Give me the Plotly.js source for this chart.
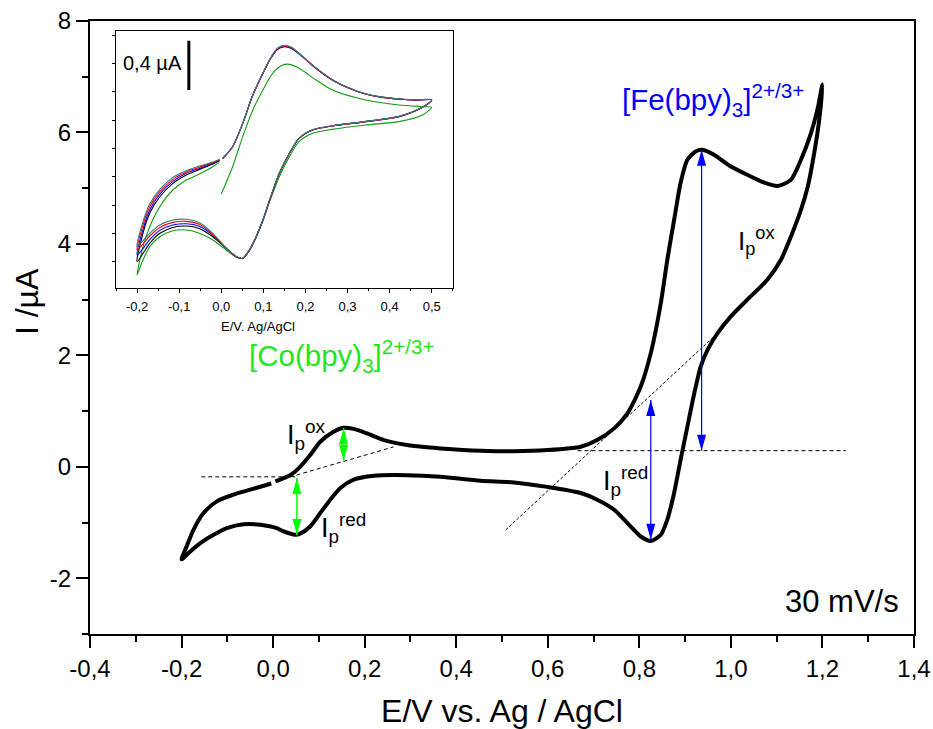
<!DOCTYPE html>
<html>
<head>
<meta charset="utf-8">
<script src="https://cdn.plot.ly/plotly-3.0.1.min.js"></script>
<style>html,body{margin:0;padding:0;background:#fff;}#chart{width:933px;height:729px;}</style>
</head>
<body>
<div id="chart"></div>
<script>
// ---------- main cyclic voltammogram (E / V, I / µA) ----------
const mainE = [0.005, 0.037, 0.059, 0.081, 0.103, 0.132, 0.154, 0.176, 0.205, 0.242, 0.293, 0.336, 0.366, 0.453, 0.526, 0.599, 0.672, 0.708, 0.745, 0.774, 0.803, 0.825, 0.847, 0.861, 0.876, 0.890, 0.905, 0.923, 0.938, 0.963, 1.000, 1.036, 1.073, 1.102, 1.131, 1.153, 1.175, 1.189, 1.200,
  1.193, 1.182, 1.168, 1.153, 1.131, 1.109, 1.080, 1.036, 1.000, 0.971, 0.949, 0.934, 0.920, 0.905, 0.890, 0.876, 0.861, 0.847, 0.825, 0.803, 0.774, 0.745, 0.708, 0.672, 0.599, 0.526, 0.453, 0.366, 0.293, 0.220, 0.176, 0.147, 0.125, 0.103, 0.081, 0.059, 0.048, 0.023, 0.008, -0.028, -0.065, -0.101, -0.130, -0.159, -0.181, -0.200,
  -0.189, -0.174, -0.152, -0.123, -0.087, -0.050, -0.004];
const mainI = [-0.26, -0.15, 0.00, 0.21, 0.45, 0.63, 0.70, 0.68, 0.60, 0.48, 0.39, 0.35, 0.33, 0.29, 0.28, 0.30, 0.36, 0.48, 0.69, 0.96, 1.44, 2.04, 2.94, 3.71, 4.43, 5.09, 5.51, 5.66, 5.69, 5.60, 5.39, 5.24, 5.10, 5.04, 5.15, 5.51, 5.99, 6.41, 6.86,
  6.23, 5.63, 5.03, 4.61, 4.13, 3.71, 3.36, 3.00, 2.70, 2.40, 2.10, 1.80, 1.32, 0.72, 0.12, -0.47, -0.95, -1.22, -1.33, -1.25, -1.01, -0.77, -0.59, -0.47, -0.36, -0.28, -0.25, -0.18, -0.15, -0.16, -0.23, -0.38, -0.59, -0.83, -1.07, -1.20, -1.22, -1.16, -1.10, -1.04, -1.03, -1.10, -1.22, -1.37, -1.52, -1.66,
  -1.43, -1.13, -0.83, -0.62, -0.50, -0.41, -0.30];

// baselines (dashed)
const coBaseRedE = [-0.157, 0.048], coBaseRedI = [-0.18, -0.18];
const coBaseOxE  = [0.007, 0.263],  coBaseOxI  = [-0.253, 0.357];
const feBaseOxE  = [0.665, 1.251],  feBaseOxI  = [0.29, 0.29];
const feBaseRedE = [0.508, 0.963],  feBaseRedI = [-1.133, 2.338];

// peak-current arrows [bottom, top]
const coOxArrowE  = [0.154, 0.154], coOxArrowI  = [0.11, 0.693];
const coRedArrowE = [0.052, 0.052], coRedArrowI = [-1.223, -0.20];
const feOxArrowE  = [0.936, 0.936], feOxArrowI  = [0.29, 5.69];
const feRedArrowE = [0.825, 0.825], feRedArrowI = [-1.31, 1.20];

// ---------- inset: repeated cycles of the Co couple ----------
const insetE = [0.003, 0.027, 0.051, 0.075, 0.099, 0.115, 0.134, 0.150, 0.166, 0.193, 0.225, 0.264, 0.304, 0.343, 0.383, 0.422, 0.462, 0.500,
  0.478, 0.422, 0.343, 0.264, 0.217, 0.185, 0.162, 0.138, 0.115, 0.099, 0.083, 0.067, 0.051, 0.036, 0.012, -0.020, -0.052, -0.083, -0.115, -0.146, -0.170, -0.186, -0.200,
  -0.186, -0.170, -0.146, -0.115, -0.083, -0.052, -0.020, -0.004];
const insetBlack = [-0.040, 0.057, 0.247, 0.478, 0.655, 0.764, 0.851, 0.872, 0.859, 0.791, 0.696, 0.601, 0.533, 0.486, 0.459, 0.446, 0.438, 0.438,
  0.378, 0.302, 0.261, 0.226, 0.193, 0.125, 0.003, -0.160, -0.378, -0.541, -0.677, -0.785, -0.853, -0.840, -0.772, -0.677, -0.609, -0.590, -0.601, -0.649, -0.731, -0.813, -0.880,
  -0.649, -0.486, -0.351, -0.242, -0.174, -0.128, -0.084, -0.058];
const insetBlue = [-0.040, 0.057, 0.247, 0.478, 0.655, 0.764, 0.853, 0.875, 0.862, 0.791, 0.696, 0.601, 0.533, 0.486, 0.459, 0.446, 0.438, 0.438,
  0.378, 0.302, 0.261, 0.226, 0.193, 0.125, 0.003, -0.160, -0.378, -0.541, -0.677, -0.785, -0.853, -0.840, -0.772, -0.666, -0.592, -0.571, -0.582, -0.625, -0.701, -0.774, -0.826,
  -0.617, -0.459, -0.329, -0.226, -0.160, -0.120, -0.079, -0.054];
const insetRed = [-0.040, 0.057, 0.247, 0.478, 0.655, 0.764, 0.856, 0.878, 0.865, 0.791, 0.696, 0.601, 0.533, 0.486, 0.459, 0.446, 0.438, 0.438,
  0.378, 0.302, 0.261, 0.226, 0.193, 0.125, 0.003, -0.160, -0.378, -0.541, -0.677, -0.785, -0.853, -0.840, -0.772, -0.658, -0.576, -0.552, -0.560, -0.601, -0.671, -0.736, -0.785,
  -0.582, -0.432, -0.310, -0.209, -0.149, -0.111, -0.073, -0.050];
const insetTeal = [-0.038, 0.059, 0.249, 0.480, 0.658, 0.768, 0.862, 0.883, 0.870, 0.795, 0.699, 0.603, 0.535, 0.488, 0.461, 0.448, 0.440, 0.440,
  0.380, 0.304, 0.263, 0.228, 0.195, 0.127, 0.005, -0.158, -0.376, -0.539, -0.675, -0.783, -0.851, -0.838, -0.770, -0.649, -0.563, -0.535, -0.541, -0.582, -0.649, -0.709, -0.758,
  -0.554, -0.410, -0.291, -0.193, -0.139, -0.101, -0.068, -0.045];
const insetGreenE = [0.000, 0.027, 0.051, 0.075, 0.099, 0.122, 0.146, 0.162, 0.185, 0.225, 0.264, 0.343, 0.422, 0.480, 0.500,
  0.478, 0.422, 0.343, 0.264, 0.217, 0.185, 0.162, 0.138, 0.115, 0.099, 0.083, 0.067, 0.051, 0.036, 0.012, -0.020, -0.052, -0.083, -0.115, -0.146, -0.170, -0.186, -0.200,
  -0.186, -0.170, -0.146, -0.115, -0.083, -0.052, -0.020, -0.005];
const insetGreen = [-0.329, -0.106, 0.139, 0.356, 0.519, 0.655, 0.723, 0.728, 0.696, 0.601, 0.519, 0.438, 0.397, 0.383, 0.378,
  0.315, 0.261, 0.234, 0.198, 0.166, 0.098, -0.024, -0.188, -0.391, -0.549, -0.682, -0.791, -0.853, -0.845, -0.785, -0.704, -0.649, -0.622, -0.628, -0.677, -0.758, -0.867, -0.989,
  -0.758, -0.595, -0.432, -0.296, -0.215, -0.166, -0.106, -0.073];
const scaleBarE = [-0.077, -0.077], scaleBarI = [0.519, 0.921];

// ---------- tick labels ----------
const xTickVals = [-0.4, -0.2, 0, 0.2, 0.4, 0.6, 0.8, 1.0, 1.2, 1.4];
const xTickText = ['-0,4', '-0,2', '0,0', '0,2', '0,4', '0,6', '0,8', '1,0', '1,2', '1,4'];
const yTickVals = [-2, 0, 2, 4, 6, 8];
const yTickText = ['-2', '0', '2', '4', '6', '8'];
const insetTickVals = [-0.2, -0.1, 0, 0.1, 0.2, 0.3, 0.4, 0.5];
const insetTickText = ['-0,2', '-0,1', '0,0', '0,1', '0,2', '0,3', '0,4', '0,5'];

const FONT = 'Liberation Sans, Arial, Helvetica, sans-serif';
const GREEN = '#00ff00', BLUE = '#0000ff';

const traces = [];
function line(x, y, color, width, dash, xa, ya, shape, smoothing) {
  traces.push({x: x, y: y, type: 'scatter', mode: 'lines', xaxis: xa || 'x', yaxis: ya || 'y',
    line: {color: color, width: width, dash: dash || 'solid', shape: shape || 'linear', smoothing: smoothing || 0.8},
    hoverinfo: 'skip', showlegend: false});
}
// dashed baselines
line(coBaseRedE, coBaseRedI, '#000', 1, '4px,3px');
line(coBaseOxE, coBaseOxI, '#000', 1, '4px,3px');
line(feBaseOxE, feBaseOxI, '#000', 1, '4px,3px');
line(feBaseRedE, feBaseRedI, '#000', 1, '3px,2px');
// main curve
line(mainE, mainI, '#000', 4, 'solid', 'x', 'y', 'spline', 0.7);
// arrow shafts
line(coOxArrowE, coOxArrowI, GREEN, 1.5);
line(coRedArrowE, coRedArrowI, GREEN, 1.5);
line(feOxArrowE, feOxArrowI, BLUE, 1.2);
line(feRedArrowE, feRedArrowI, BLUE, 1.2);
// inset
line(insetGreenE, insetGreen, '#139a13', 1.1, 'solid', 'x2', 'y2', 'spline');
line(insetE, insetBlack, '#000000', 1.1, 'solid', 'x2', 'y2', 'spline');
line(insetE, insetBlue, '#0000ff', 1.1, 'solid', 'x2', 'y2', 'spline');
line(insetE, insetRed, '#ff0000', 1.1, 'solid', 'x2', 'y2', 'spline');
line(insetE, insetTeal, '#2e7b7b', 1.1, 'solid', 'x2', 'y2', 'spline');
line(scaleBarE, scaleBarI, '#000', 3, 'solid', 'x2', 'y2');

// arrow heads (pixel-sized paths anchored at the arrow ends)
const shapes = [];
function head(xv, yv, up, color) {
  const L = 16, W = 4.5;
  const p = up ? `M0,0 L${-W},${-L} L${W},${-L} Z` : `M0,0 L${-W},${L} L${W},${L} Z`;
  shapes.push({type: 'path', xref: 'x', yref: 'y', xsizemode: 'pixel', ysizemode: 'pixel',
    xanchor: xv, yanchor: yv, path: p, fillcolor: color, line: {width: 0}, layer: 'above'});
}
[[coOxArrowE, coOxArrowI, GREEN], [coRedArrowE, coRedArrowI, GREEN],
 [feOxArrowE, feOxArrowI, BLUE], [feRedArrowE, feRedArrowI, BLUE]].forEach(a => {
  head(a[0][0], a[1][0], false, a[2]);
  head(a[0][1], a[1][1], true, a[2]);
});

function ann(x, y, text, size, color, xanchor, extra) {
  return Object.assign({x: x, y: y, xref: 'x', yref: 'y', text: text, showarrow: false,
    xanchor: xanchor || 'left', yanchor: 'middle', font: {family: FONT, size: size, color: color || '#000'}}, extra || {});
}
const annotations = [
  ann(0.757, 6.58, '[Fe(bpy)<sub>3</sub>]<sup>2+/3+</sup>', 29.5, BLUE),
  ann(-0.056, 1.98, '[Co(bpy)<sub>3</sub>]<sup>2+/3+</sup>', 29.5, '#1ee61e'),
  ann(0.025, 0.57, 'I<sub>p</sub><sup>ox</sup>', 27),
  ann(0.100, -1.10, 'I<sub>p</sub><sup>red</sup>', 27),
  ann(1.011, 4.06, 'I<sub>p</sub><sup>ox</sup>', 26),
  ann(0.716, -0.26, 'I<sub>p</sub><sup>red</sup>', 27),
  ann(1.372, -2.41, '30 mV/s', 31, '#000', 'right'),
  ann(-0.163, 0.739, '0,4 µA', 20, '#000', 'center', {xref: 'x2', yref: 'y2'}),
  {x: 0.204, y: 0.502, xref: 'paper', yref: 'paper', text: 'E/V. Ag/AgCl', showarrow: false,
   xanchor: 'center', yanchor: 'middle', font: {family: FONT, size: 13, color: '#000'}},
  // y-axis title (placed as in the reference, above the axis centre)
  {x: -0.0765, y: 0.543, xref: 'paper', yref: 'paper', text: 'I /µA', showarrow: false, textangle: -90,
   xanchor: 'center', yanchor: 'middle', font: {family: FONT, size: 32, color: '#000'}}
];

const axisCommon = {showgrid: false, zeroline: false, showline: true, mirror: true, linecolor: '#000',
  ticks: 'outside', tickcolor: '#000', tickmode: 'array'};

const layout = {
  width: 933, height: 729,
  margin: {l: 90, r: 19, t: 21, b: 95},
  paper_bgcolor: '#fff', plot_bgcolor: 'rgba(0,0,0,0)',
  font: {family: FONT, color: '#000'},
  showlegend: false,
  xaxis: Object.assign({}, axisCommon, {
    range: [-0.4, 1.4], tickvals: xTickVals, ticktext: xTickText,
    linewidth: 2, ticklen: 12, tickwidth: 2, tickfont: {size: 24, family: FONT},
    minor: {dtick: 0.1, tick0: 0, ticklen: 6, tickwidth: 2, ticks: 'outside', tickcolor: '#000'},
    title: {text: 'E/V vs. Ag / AgCl', font: {size: 32, family: FONT}, standoff: 23}
  }),
  yaxis: Object.assign({}, axisCommon, {
    range: [-3, 8], tickvals: yTickVals, ticktext: yTickText,
    linewidth: 2, ticklen: 12, tickwidth: 2, tickfont: {size: 24, family: FONT},
    minor: {dtick: 1, tick0: 0, ticklen: 6, tickwidth: 2, ticks: 'outside', tickcolor: '#000'}
  }),
  xaxis2: Object.assign({}, axisCommon, {
    anchor: 'y2', domain: [0.0316, 0.4402], range: [-0.25, 0.55],
    tickvals: insetTickVals, ticktext: insetTickText,
    linewidth: 1.2, ticklen: 4, tickwidth: 1, tickfont: {size: 13, family: FONT}, ticklabelstandoff: 3,
    minor: {dtick: 0.05, tick0: 0, ticklen: 2.5, tickwidth: 1, ticks: 'outside', tickcolor: '#000'}
  }),
  yaxis2: Object.assign({}, axisCommon, {
    anchor: 'x2', domain: [0.565, 0.9837], range: [-1.092, 1.0],
    tickmode: 'linear', tick0: 0.736, dtick: 0.231, showticklabels: false,
    linewidth: 1.2, ticklen: 3, tickwidth: 1
  }),
  shapes: shapes,
  annotations: annotations
};

Plotly.newPlot('chart', traces, layout, {staticPlot: true, displayModeBar: false});
</script>
</body>
</html>
